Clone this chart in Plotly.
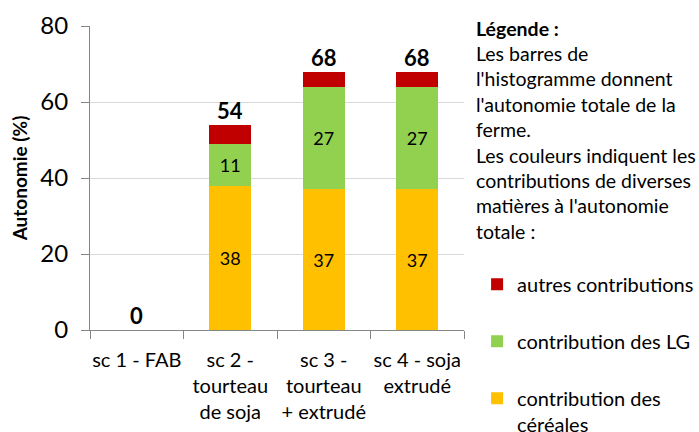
import plotly.graph_objects as go

categories = ["sc 1 - FAB", "sc 2 -<br>tourteau<br>de soja", "sc 3 -<br>tourteau<br>+ extrudé", "sc 4 - soja<br>extrudé"]
cereales = [0, 38, 37, 37]
lg = [0, 11, 27, 27]
autres = [0, 5, 4, 4]
totals = [0, 54, 68, 68]
y_ticks = [0, 20, 40, 60, 80]

note_lines = [
    "<b>Légende :</b>",
    "Les barres de",
    "l'histogramme donnent",
    "l'autonomie totale de la",
    "ferme.",
    "Les couleurs indiquent les",
    "contributions de diverses",
    "matières à l'autonomie",
    "totale :",
]

FONT = "Lato, Calibri, Carlito, sans-serif"

fig = go.Figure()

def seg_text(vals):
    return [str(v) if v > 0 else "" for v in vals]

fig.add_trace(go.Bar(
    x=categories, y=cereales, name="contribution des<br>céréales",
    marker=dict(color="#FFC000", line=dict(width=0)),
    text=seg_text(cereales), textposition="inside", insidetextanchor="middle",
    textfont=dict(color="black", size=18, family=FONT), legendgroup="c", legendrank=3,
))
fig.add_trace(go.Bar(
    x=categories, y=lg, name="contribution des LG",
    marker=dict(color="#92D050", line=dict(width=0)),
    text=seg_text(lg), textposition="inside", insidetextanchor="middle",
    textfont=dict(color="black", size=18, family=FONT), legendgroup="l", legendrank=2,
))
fig.add_trace(go.Bar(
    x=categories, y=autres, name="autres contributions",
    marker=dict(color="#C00000", line=dict(width=0)),
    textposition="none", legendgroup="a", legendrank=1,
))

for c, t in zip(categories, totals):
    fig.add_annotation(x=c, y=t, text=f"<b>{t}</b>", showarrow=False,
                       yanchor="bottom", yshift=-1, xref="x", yref="y",
                       font=dict(size=22, color="black", family=FONT))

for i, line in enumerate(note_lines):
    fig.add_annotation(x=1.027, y=0.9934, xref="paper", yref="paper",
                       xanchor="left", yanchor="middle", align="left", showarrow=False,
                       yshift=-25.4 * i, text=line,
                       font=dict(size=19.5, color="black", family=FONT))

fig.update_layout(
    width=699, height=432,
    margin=dict(l=90, r=235, t=26, b=102, autoexpand=False),
    paper_bgcolor="white", plot_bgcolor="white",
    barmode="stack", bargap=0.55,
    font=dict(family=FONT, color="black"),
    uniformtext=dict(minsize=10, mode="show"),
    legend=dict(x=1.035, y=0.215, xanchor="left", yanchor="top",
                traceorder="grouped", tracegroupgap=28,
                valign="top", font=dict(size=20, family=FONT, color="black"),
                bgcolor="rgba(0,0,0,0)"),
    xaxis=dict(showline=True, linecolor="#868686", linewidth=1, automargin=False,
               ticks="outside", tickson="boundaries", ticklen=8, tickcolor="#868686",
               tickangle=0, ticklabelstandoff=12,
               tickfont=dict(size=20, family=FONT, color="black"),
               showgrid=False),
    yaxis=dict(range=[0, 80], tickvals=y_ticks, showline=True, linecolor="#868686",
               automargin=False,
               ticks="outside", ticklen=8, tickcolor="#868686",
               gridcolor="#D9D9D9", zeroline=False,
               tickfont=dict(size=24, family=FONT, color="black"),
               ticklabelstandoff=8,
               title=dict(text="<b>Autonomie (%)</b>", font=dict(size=19, family=FONT, color="black"), standoff=7)),
)

fig.write_html("out.html", config={"displayModeBar": False},
               post_script="document.body.style.margin='0';document.body.style.overflow='hidden';")
